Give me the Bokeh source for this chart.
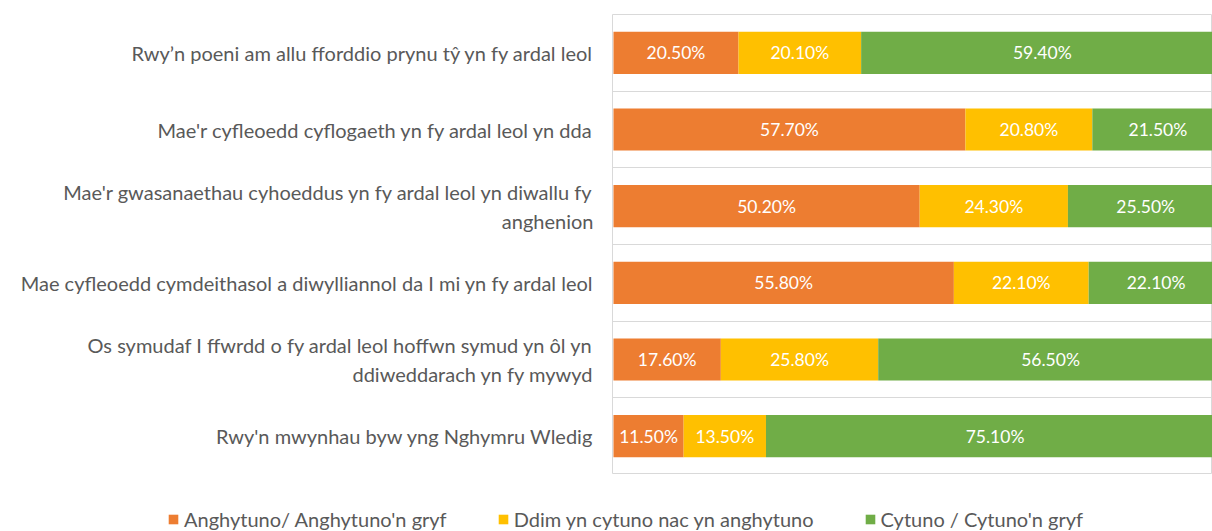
from bokeh.plotting import figure
from bokeh.models import ColumnDataSource, Range1d, FixedTicker, Legend, LegendItem
from bokeh.layouts import column
from bokeh.core.properties import value
from bokeh.embed import file_html
from bokeh.resources import INLINE

categories = [
    "Rwy’n poeni am allu fforddio prynu tŷ yn fy ardal leol",
    "Mae'r cyfleoedd cyflogaeth yn fy ardal leol yn dda",
    "Mae'r gwasanaethau cyhoeddus yn fy ardal leol yn diwallu fy\nanghenion",
    "Mae cyfleoedd cymdeithasol a diwylliannol da I mi yn fy ardal leol",
    "Os symudaf I ffwrdd o fy ardal leol hoffwn symud yn ôl yn\nddiweddarach yn fy mywyd",
    "Rwy'n mwynhau byw yng Nghymru Wledig",
]
disagree = [20.5, 57.7, 50.2, 55.8, 17.6, 11.5]
neutral = [20.1, 20.8, 24.3, 22.1, 25.8, 13.5]
agree = [59.4, 21.5, 25.5, 22.1, 56.5, 75.1]
series_names = ["Anghytuno/ Anghytuno'n gryf", "Ddim yn cytuno nac yn anghytuno", "Cytuno / Cytuno'n gryf"]
colors = ["#ED7D31", "#FFC000", "#70AD47"]

FONT = "Lato"
n = len(categories)
ypos = [i + 0.5 for i in range(n)]

src = ColumnDataSource(dict(y=ypos, dis=disagree, neu=neutral, agr=agree))

p = figure(width=1212, height=474, output_backend="svg", toolbar_location=None,
           x_range=Range1d(-0.16, 98.2), y_range=Range1d(n, 0),
           min_border_left=612, min_border_right=0, min_border_top=14, min_border_bottom=0)
p.frame_align = False
p.background_fill_color = "white"
p.border_fill_color = "white"
p.outline_line_color = "#D9D9D9"
p.outline_line_width = 1

rs = p.hbar_stack(["dis", "neu", "agr"], y="y", height=0.55, source=src,
                  color=colors, line_color=None)

# labels
lab_x, lab_y, lab_t = [], [], []
for i in range(n):
    vals = [disagree[i], neutral[i], agree[i]]
    cum = 0
    for v in vals:
        lab_x.append(cum + v / 2)
        lab_y.append(ypos[i])
        lab_t.append(f"{v:.2f}%")
        cum += v
p.text(x=lab_x, y=lab_y, text=lab_t, text_align="center", text_baseline="middle",
       text_color="white", text_font=value(FONT), text_font_size="17.5px")

p.xaxis.visible = False
p.xgrid.visible = False
p.ygrid.ticker = FixedTicker(ticks=[float(i) for i in range(1, n)])
p.ygrid.grid_line_color = "#D9D9D9"

ax = p.yaxis[0]
ax.ticker = FixedTicker(ticks=ypos)
ax.major_label_overrides = {y: c for y, c in zip(ypos, categories)}
ax.axis_line_color = None
ax.major_tick_line_color = None
ax.minor_tick_line_color = None
ax.major_label_standoff = 13
ax.major_label_text_font = FONT
ax.major_label_text_font_size = "20px"
ax.major_label_text_color = "#595959"

# legend strip (own figure so the legend can sit left of the bar area)
p2 = figure(width=1212, height=57, output_backend="svg", toolbar_location=None,
            x_range=Range1d(0, 100), y_range=Range1d(0, 1),
            x_axis_location=None, y_axis_location=None,
            min_border_left=0, min_border_right=0, min_border_top=0, min_border_bottom=0)
p2.frame_align = False
p2.grid.visible = False
p2.outline_line_color = None
p2.background_fill_color = "white"
p2.border_fill_color = "white"
lrs = p2.hbar_stack(["dis", "neu", "agr"], y="y", height=0.55, source=src,
                    color=colors, line_color=None, visible=False)

legend = Legend(items=[LegendItem(label=nm, renderers=[r]) for nm, r in zip(series_names, lrs)],
                orientation="horizontal", location=(167, 0),
                label_text_font=FONT, label_text_font_size="20px", label_text_color="#595959",
                glyph_width=12, glyph_height=12, spacing=50, padding=0, margin=0,
                label_standoff=5, border_line_color=None, background_fill_alpha=0)
p2.add_layout(legend, "center")

layout = column(p, p2, spacing=0)
open("out.html", "w").write(file_html(layout, INLINE))
